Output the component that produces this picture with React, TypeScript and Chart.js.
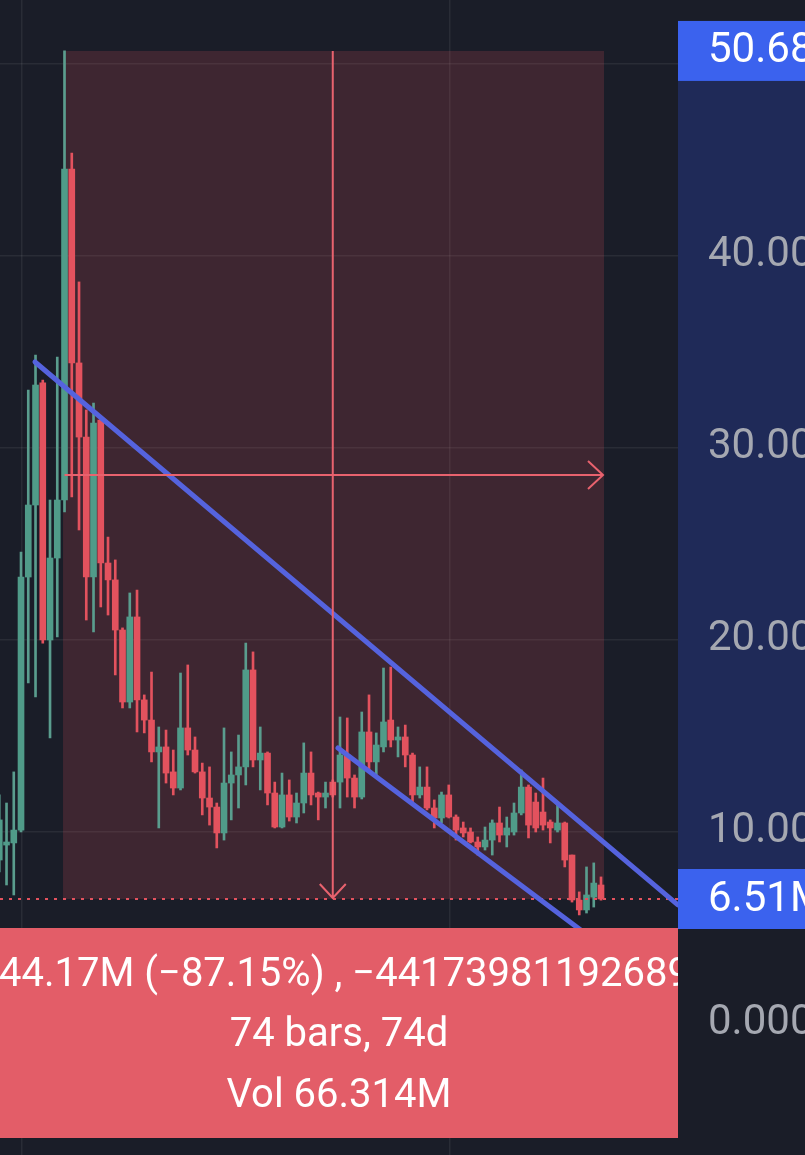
import React, { useEffect, useRef } from 'react';
import { Chart, registerables } from 'chart.js';

Chart.register(...registerables);

const W = 805;
const H = 1155;
const FONT = 'Roboto, "Noto Sans", "DejaVu Sans", sans-serif';

// bar index (day offset relative to the first measured bar)
const barIndex = Array.from({ length: 84 }, (_, k) => k - 9);

const opens = [
  8.54, 9.32, 9.43, 10.1, 23.28, 27.03, 33.39, 20.0, 24.27,
  27.29, 44.53, 34.43, 30.57, 23.28, 31.46, 24.01, 23.13, 20.52, 16.77,
  21.2, 16.88, 15.83, 14.17, 14.43, 13.13, 12.29, 15.42, 14.27, 13.13,
  11.77, 11.3, 9.95, 12.55, 12.97, 13.39, 18.44, 13.75, 14.11, 12.03,
  10.26, 11.93, 10.78, 11.51, 13.07, 12.03, 11.82, 12.6, 12.6, 14.01,
  12.81, 11.82, 15.21, 13.65, 14.43, 15.83, 14.79, 14.95, 14.01, 11.93,
  12.34, 11.25, 10.73, 11.93, 10.78, 10.21, 10.0, 9.48, 9.22, 9.58,
  10.47, 9.84, 10.0, 10.99, 12.34, 11.56, 11.04, 10.52, 10.1, 10.47,
  8.8, 6.46, 5.94, 6.61, 7.24,
];
const highs = [
  11.93, 11.51, 13.13, 24.58, 33.02, 34.84, 33.54, 27.29, 34.74,
  50.68, 45.36, 38.65, 31.98, 32.34, 31.56, 25.36, 24.17, 20.63, 22.45,
  22.6, 17.14, 18.33, 15.47, 15.31, 14.27, 18.28, 18.7, 14.95, 13.59,
  13.39, 11.51, 15.42, 14.17, 15.05, 19.84, 19.38, 15.47, 14.17, 12.6,
  13.07, 12.71, 12.03, 14.64, 14.17, 12.08, 12.6, 12.71, 15.99, 15.94,
  12.97, 16.25, 17.14, 15.16, 18.54, 18.59, 15.47, 15.57, 14.11, 13.39,
  13.39, 11.67, 12.08, 12.45, 10.89, 10.52, 10.21, 9.74, 10.26, 10.63,
  11.3, 10.78, 11.51, 13.23, 12.45, 12.03, 12.81, 10.63, 11.51, 10.52,
  8.8, 6.88, 8.18, 8.39, 7.66,
];
const lows = [
  7.92, 7.24, 6.72, 10.0, 17.76, 17.03, 19.84, 14.9, 20.16,
  26.67, 27.45, 25.73, 21.04, 20.42, 21.72, 21.3, 18.18, 16.46, 16.46,
  15.21, 15.16, 13.65, 10.21, 12.55, 11.93, 12.19, 14.01, 13.07, 10.89,
  10.36, 9.17, 9.58, 10.63, 11.25, 12.45, 13.39, 12.19, 11.41, 10.21,
  10.21, 10.57, 10.47, 10.99, 11.41, 10.63, 11.25, 11.82, 11.25, 11.82,
  11.25, 11.72, 13.13, 12.97, 14.17, 14.43, 13.91, 13.39, 11.56, 11.77,
  11.15, 10.21, 10.47, 10.73, 9.58, 9.74, 9.43, 8.8, 9.06, 8.8,
  9.48, 9.22, 9.84, 10.89, 9.69, 10.0, 10.1, 9.43, 10.0, 8.18,
  6.35, 5.68, 5.78, 6.09, 6.45,
];
const closes = [
  10.63, 9.48, 10.1, 23.28, 27.03, 33.28, 20.0, 24.27, 27.29,
  44.53, 34.43, 30.57, 23.28, 31.3, 24.01, 23.13, 20.52, 16.77, 21.2,
  16.88, 15.83, 14.17, 14.43, 13.07, 12.29, 15.42, 14.27, 13.13, 11.77,
  11.3, 9.95, 12.55, 12.97, 13.39, 18.44, 13.75, 14.11, 12.03, 10.26,
  11.93, 10.78, 11.51, 13.07, 11.93, 11.82, 12.03, 11.93, 14.01, 12.81,
  11.82, 15.21, 13.65, 14.53, 15.73, 14.79, 14.95, 14.01, 11.93, 12.34,
  11.25, 10.73, 11.93, 10.78, 10.1, 9.95, 9.48, 9.22, 9.58, 10.47,
  9.84, 10.21, 10.99, 12.34, 10.36, 10.21, 10.36, 10.21, 10.47, 8.54,
  6.46, 5.94, 6.72, 7.34, 6.51,
];

const yTickValues = [0, 10, 20, 30, 40, 50];
const xGridTicks = [-5.9, 53.15];

const measureStart = 0;
const measureEnd = 74;
const measureHigh = 50.68;
const measureLow = 6.51;
const lastPrice = 6.51;

const upperTrend = [
  [-4.07, 34.48],
  [84.6, 6.2],
];
const lowerTrend = [
  [37.72, 14.375],
  [73.86, 4.14],
];

const highLabel = '50.68';
const lastLabel = '6.51M';
const infoLines = ['−44.17M (−87.15%) , −441739811926895', '74 bars, 74d', 'Vol 66.314M'];

const xMin = -8.9;
const xMax = 84.62;
const yMin = -6.823;
const yMax = 53.333;

const BG = '#1a1d28';
const UP = '#509b89';
const DOWN = '#e3525e';
const UP_WICK = '#5a9d8e';
const GRID = 'rgba(255,255,255,0.065)';
const MEASURE = '#e8626e';
const TREND = '#5563de';
const PRICE_BOX = '#3b62ee';
const AXIS_BAND = '#1f2a58';
const INFO_BOX = '#e35d68';

const isUp = (k: number) => closes[k] >= opens[k];

const overlayPlugin = {
  id: 'tvOverlay',
  beforeDraw(chart: any) {
    const { ctx, chartArea } = chart;
    const ys = chart.scales.y;
    ctx.save();
    ctx.fillStyle = BG;
    ctx.fillRect(0, 0, chart.width, chart.height);
    const yt = ys.getPixelForValue(measureHigh);
    const yb = ys.getPixelForValue(measureLow);
    ctx.fillStyle = AXIS_BAND;
    ctx.fillRect(chartArea.right, yt, chart.width - chartArea.right, yb - yt);
    ctx.restore();
  },
  beforeDatasetsDraw(chart: any) {
    const { ctx } = chart;
    const xs = chart.scales.x;
    const ys = chart.scales.y;
    const x0 = xs.getPixelForValue(measureStart) - 1.5;
    const x1 = xs.getPixelForValue(measureEnd) + 3;
    const yt = ys.getPixelForValue(measureHigh);
    const yb = ys.getPixelForValue(measureLow);
    ctx.save();
    ctx.fillStyle = 'rgba(229,83,95,0.18)';
    ctx.fillRect(x0, yt, x1 - x0, yb - yt);
    ctx.restore();
  },
  afterDatasetsDraw(chart: any) {
    const { ctx, chartArea } = chart;
    const xs = chart.scales.x;
    const ys = chart.scales.y;
    const yt = ys.getPixelForValue(measureHigh);
    const yb = ys.getPixelForValue(measureLow);
    const yLast = ys.getPixelForValue(lastPrice);
    ctx.save();

    // last price dotted line
    ctx.strokeStyle = DOWN;
    ctx.lineWidth = 2;
    ctx.setLineDash([3, 6]);
    ctx.beginPath();
    ctx.moveTo(chartArea.left, yLast);
    ctx.lineTo(chartArea.right, yLast);
    ctx.stroke();
    ctx.setLineDash([]);

    // trend lines
    ctx.strokeStyle = TREND;
    ctx.lineWidth = 5;
    ctx.lineCap = 'round';
    for (const line of [upperTrend, lowerTrend]) {
      ctx.beginPath();
      ctx.moveTo(xs.getPixelForValue(line[0][0]), ys.getPixelForValue(line[0][1]));
      ctx.lineTo(xs.getPixelForValue(line[1][0]), ys.getPixelForValue(line[1][1]));
      ctx.stroke();
    }
    ctx.lineCap = 'butt';

    // measurement arrows
    const xm = xs.getPixelForValue((measureStart + measureEnd) / 2);
    const ym = ys.getPixelForValue((measureHigh + measureLow) / 2);
    const xl = xs.getPixelForValue(measureStart);
    const xr = xs.getPixelForValue(measureEnd) + 2;
    ctx.strokeStyle = MEASURE;
    ctx.lineWidth = 2;
    ctx.beginPath();
    ctx.moveTo(xm, yt);
    ctx.lineTo(xm, yb - 1);
    ctx.moveTo(xm - 13, yb - 15);
    ctx.lineTo(xm, yb - 1);
    ctx.lineTo(xm + 13, yb - 15);
    ctx.moveTo(xl, ym);
    ctx.lineTo(xr, ym);
    ctx.moveTo(xr - 15, ym - 14);
    ctx.lineTo(xr, ym);
    ctx.lineTo(xr - 15, ym + 14);
    ctx.stroke();

    // price boxes on the axis
    const axisL = chartArea.right;
    ctx.font = `42px ${FONT}`;
    ctx.textBaseline = 'middle';
    ctx.textAlign = 'left';
    for (const [y, label] of [
      [yt, highLabel],
      [yb, lastLabel],
    ] as [number, string][]) {
      ctx.fillStyle = PRICE_BOX;
      ctx.fillRect(axisL, y - 30, chart.width - axisL, 60);
      ctx.fillStyle = '#ffffff';
      ctx.fillText(label, axisL + 30, y + 1);
    }

    // info box
    const boxTop = yb + 29;
    const boxH = 210;
    ctx.fillStyle = INFO_BOX;
    ctx.fillRect(chartArea.left, boxTop, chartArea.right - chartArea.left, boxH);
    ctx.beginPath();
    ctx.rect(chartArea.left, boxTop, chartArea.right - chartArea.left, boxH);
    ctx.clip();
    ctx.fillStyle = '#ffffff';
    ctx.font = `40px ${FONT}`;
    ctx.textBaseline = 'middle';
    ctx.textAlign = 'left';
    const minusW = ctx.measureText('−').width;
    ctx.fillText(infoLines[0], chartArea.left - minusW - 1, boxTop + 48);
    ctx.textAlign = 'center';
    const cx = (chartArea.left + chartArea.right) / 2;
    ctx.fillText(infoLines[1], cx, boxTop + 108);
    ctx.fillText(infoLines[2], cx, boxTop + 169);
    ctx.restore();
  },
};

export default function App() {
  const canvasRef = useRef<HTMLCanvasElement | null>(null);

  useEffect(() => {
    const canvas = canvasRef.current;
    if (!canvas) return;
    const colors = barIndex.map((_, k) => (isUp(k) ? UP : DOWN));
    const wickColors = barIndex.map((_, k) => (isUp(k) ? UP_WICK : DOWN));
    const chart = new Chart(canvas, {
      type: 'bar',
      data: {
        datasets: [
          {
            label: 'wick',
            data: barIndex.map((x, k) => ({ x, y: [lows[k], highs[k]] })) as any,
            backgroundColor: wickColors,
            barThickness: 2,
            grouped: false,
            borderWidth: 0,
            order: 2,
          } as any,
          {
            label: 'body',
            data: barIndex.map((x, k) => ({ x, y: [opens[k], closes[k]] })) as any,
            backgroundColor: colors,
            barThickness: 6,
            grouped: false,
            borderWidth: 0,
            minBarLength: 1,
            order: 1,
          } as any,
        ],
      },
      options: {
        animation: false,
        responsive: false,
        devicePixelRatio: 1,
        layout: { padding: 0 },
        plugins: {
          legend: { display: false },
          tooltip: { enabled: false },
          title: { display: false },
        },
        scales: {
          x: {
            type: 'linear',
            min: xMin,
            max: xMax,
            offset: false,
            grid: { color: GRID, drawTicks: false, offset: false, lineWidth: 1.5 },
            border: { display: false },
            ticks: { display: false },
            afterBuildTicks: (s: any) => {
              s.ticks = xGridTicks.map((v) => ({ value: v }));
            },
            afterFit: (s: any) => {
              s.height = 0;
              s.paddingLeft = 0;
              s.paddingRight = 0;
            },
          },
          y: {
            type: 'linear',
            position: 'right',
            min: yMin,
            max: yMax,
            grid: { color: GRID, drawTicks: false, lineWidth: 1.5 },
            border: { display: false },
            ticks: {
              padding: 30,
              color: '#a5a8b1',
              font: { family: FONT, size: 42 },
              autoSkip: false,
              callback: (v: any) => (Number(v) === 0 ? '0.000' : Number(v).toFixed(2)),
            },
            afterBuildTicks: (s: any) => {
              s.ticks = yTickValues.map((v) => ({ value: v }));
            },
            afterFit: (s: any) => {
              s.width = 127;
              s.paddingTop = 0;
              s.paddingBottom = 0;
            },
          },
        },
      } as any,
      plugins: [overlayPlugin],
    });
    return () => chart.destroy();
  }, []);

  return (
    <div style={{ position: 'absolute', left: 0, top: 0, width: W, height: H, background: BG, overflow: 'hidden' }}>
      <canvas ref={canvasRef} width={W} height={H} style={{ display: 'block' }} />
    </div>
  );
}
